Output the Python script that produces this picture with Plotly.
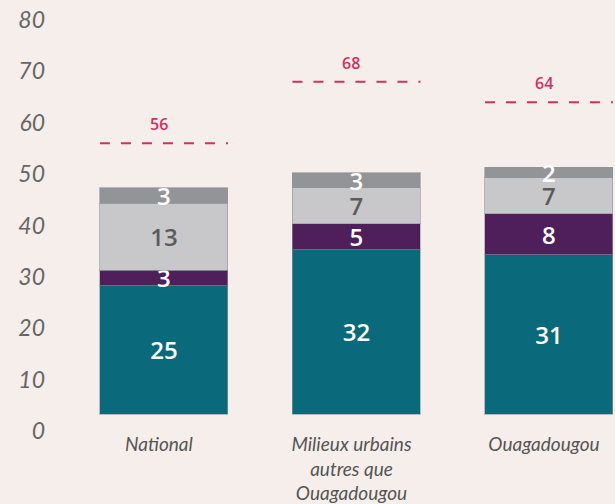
import plotly.graph_objects as go

categories = ["National", "Milieux urbains<br>autres que<br>Ouagadougou", "Ouagadougou"]
teal_vals = [25, 32, 31]
purple_vals = [3, 5, 8]
lightgray_vals = [13, 7, 7]
darkgray_vals = [3, 3, 2]
target_vals = [56, 68, 64]
y_ticks = [0, 10, 20, 30, 40, 50, 60, 70, 80]

xpos = list(range(len(categories)))
bar_w = 0.665

colors = ["#0A697B", "#4E1F5B", "#C8C8CA", "#939497"]
text_colors = ["white", "white", "#5B5B5B", "white"]
series = [teal_vals, purple_vals, lightgray_vals, darkgray_vals]
names = ["Segment 1", "Segment 2", "Segment 3", "Segment 4"]

fig = go.Figure()
for vals, col, tcol, nm in zip(series, colors, text_colors, names):
    fig.add_trace(go.Bar(
        x=xpos, y=vals, name=nm, width=bar_w,
        marker=dict(color=col, line=dict(color="rgba(140,150,155,0.6)", width=1)),
        text=[str(v) for v in vals], textposition="inside", insidetextanchor="middle",
        constraintext="none", textangle=0,
        textfont=dict(family="Open Sans", size=24, color=tcol, weight=600),
        hoverinfo="skip", showlegend=False,
    ))

lx, ly = [], []
for i, t in zip(xpos, target_vals):
    lx += [i - bar_w / 2, i + bar_w / 2, None]
    ly += [t, t, None]
fig.add_trace(go.Scatter(
    x=lx, y=ly, yaxis="y2", mode="lines",
    line=dict(color="#D42F5F", width=2, dash="10px,11px"),
    hoverinfo="skip", showlegend=False,
))

for i, t in zip(xpos, target_vals):
    fig.add_annotation(x=i, y=t, xref="x", yref="y2", text=str(t), showarrow=False,
                       yshift=19, xshift=-5,
                       font=dict(family="Open Sans", size=16, color="#D42F5F", weight=600))

fig.update_layout(
    width=615, height=504,
    margin=dict(l=60, r=0, t=10, b=73),
    paper_bgcolor="#F6EEEB", plot_bgcolor="#F6EEEB",
    barmode="stack",
    xaxis=dict(range=[-0.540, 2.343], tickvals=xpos, ticktext=categories,
               showgrid=False, zeroline=False, showline=False, ticks="",
               automargin=False, ticklabelshift=-5,
               tickfont=dict(family="Lato", size=19, color="#555555", style="italic")),
    yaxis=dict(range=[-3.31, 78.64], showticklabels=False, showgrid=False,
               zeroline=False, showline=False, ticks=""),
    yaxis2=dict(range=[0, 81.95], overlaying="y", side="left", tickvals=y_ticks,
                showgrid=False, zeroline=False, showline=False, ticks="",
                ticklabelstandoff=14, automargin=False,
                tickfont=dict(family="Lato", size=23, color="#666666", style="italic")),
)

fig.write_html("out.html", config={"displayModeBar": False},
               post_script="document.body.style.margin='0';document.body.style.background='#F6EEEB';")
